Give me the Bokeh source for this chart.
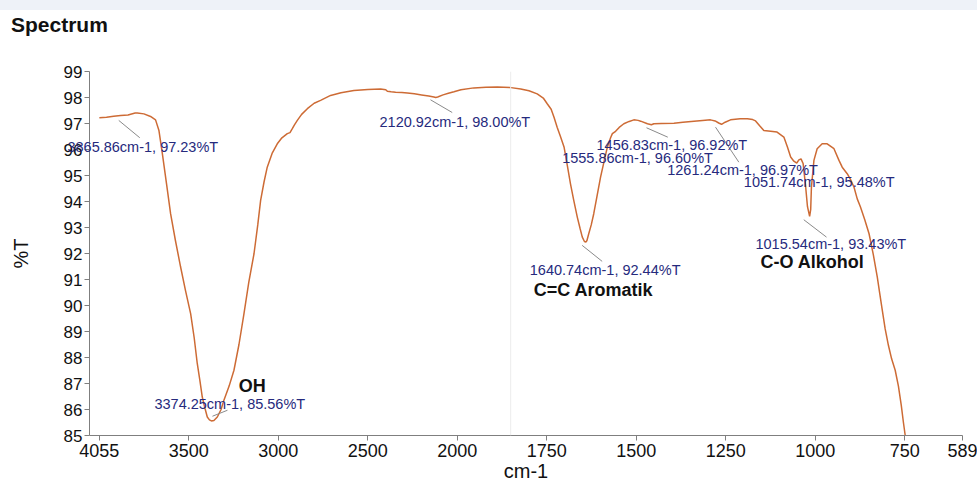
import numpy as np
from bokeh.plotting import figure
from bokeh.layouts import column
from bokeh.models import ColumnDataSource, LabelSet, Label, Range1d, FixedTicker, Span, Spacer
from bokeh.core.properties import value
from bokeh.embed import file_html
from bokeh.resources import INLINE

FONT = "Liberation Sans"

# ---------------- data ----------------
x_tick_wn = [4000, 3500, 3000, 2500, 2000, 1750, 1500, 1250, 1000, 750, 589]
x_tick_labels = ["4055", "3500", "3000", "2500", "2000", "1750", "1500", "1250", "1000", "750", "589"]
y_ticks = list(range(85, 100))

wavenumber = [
    4000, 3960, 3920, 3881, 3840, 3800, 3788, 3751, 3714, 3686, 3667, 3648, 3625, 3602,
    3575, 3546, 3518, 3490, 3470, 3453, 3438, 3425, 3410, 3397, 3385, 3374, 3360, 3341,
    3320, 3304, 3275, 3248, 3220, 3192, 3165, 3136, 3115, 3099, 3080, 3062, 3035, 3006,
    2980, 2950, 2935, 2922, 2910, 2894, 2870, 2838, 2800, 2764, 2708, 2650, 2578, 2500,
    2429, 2400, 2391, 2370, 2345, 2310, 2279, 2240, 2200, 2160, 2131, 2121, 2110, 2080,
    2050, 2019, 1990, 1954, 1920, 1888, 1850, 1823, 1800, 1777, 1760, 1749, 1738, 1730,
    1721, 1712, 1702, 1693, 1684, 1675, 1665, 1657, 1651, 1645, 1641, 1638, 1633, 1626,
    1619, 1610, 1600, 1590, 1581, 1572, 1567, 1558, 1548, 1535, 1520, 1507, 1495, 1488,
    1469, 1458, 1451, 1430, 1395, 1370, 1339, 1315, 1293, 1280, 1270, 1262, 1252, 1237,
    1210, 1190, 1175, 1167, 1155, 1144, 1125, 1107, 1088, 1078, 1069, 1060, 1052, 1046,
    1040, 1034, 1027, 1022, 1016, 1013, 1011, 1004, 995, 981, 967, 957, 948, 934,
    925, 911, 902, 892, 883, 874, 862, 850, 838, 827, 820, 813, 805, 796,
    787, 777, 768, 760, 754, 749,
]
transmittance = [
    97.22, 97.24, 97.28, 97.31, 97.33, 97.40, 97.40, 97.37, 97.27, 97.14, 96.73, 95.84, 94.70, 93.53,
    92.50, 91.48, 90.55, 89.69, 88.75, 87.77, 87.10, 86.48, 86.05, 85.71, 85.60, 85.56, 85.58, 85.71,
    86.00, 86.36, 86.90, 87.51, 88.50, 89.69, 90.90, 91.99, 93.10, 94.04, 94.75, 95.32, 95.85, 96.22,
    96.45, 96.61, 96.65, 96.80, 96.95, 97.12, 97.35, 97.57, 97.78, 97.89, 98.08, 98.18, 98.27, 98.31,
    98.33, 98.30, 98.24, 98.22, 98.20, 98.19, 98.17, 98.14, 98.10, 98.06, 98.02, 98.00, 98.02, 98.10,
    98.16, 98.22, 98.30, 98.37, 98.39, 98.40, 98.38, 98.33, 98.26, 98.14, 97.98, 97.76, 97.55, 97.24,
    96.85, 96.50, 96.10, 95.40, 94.68, 94.05, 93.40, 92.95, 92.63, 92.46, 92.44, 92.50, 92.76, 93.10,
    93.53, 94.20, 94.94, 95.55, 96.09, 96.45, 96.61, 96.70, 96.85, 96.99, 97.08, 97.14, 97.12, 97.09,
    96.99, 96.95, 96.99, 97.00, 97.01, 97.05, 97.09, 97.12, 97.14, 97.10, 97.02, 96.97, 97.05, 97.14,
    97.18, 97.18, 97.15, 97.10, 96.90, 96.73, 96.70, 96.67, 96.48, 96.10, 95.71, 95.55, 95.48, 95.60,
    95.64, 95.45, 94.55, 93.80, 93.43, 93.70, 94.55, 95.58, 96.03, 96.22, 96.22, 96.12, 96.03, 95.58,
    95.32, 95.07, 94.85, 94.55, 94.10, 93.79, 93.30, 92.76, 91.95, 91.09, 90.45, 89.81, 89.10, 88.47,
    87.95, 87.51, 86.90, 86.16, 85.50, 85.00,
]

peak_wn = [3865.86, 3374.25, 2120.92, 1640.74, 1555.86, 1456.83, 1261.24, 1051.74, 1015.54]
peak_t = [97.23, 85.56, 98.00, 92.44, 96.60, 96.92, 96.97, 95.48, 93.43]
peak_labels = [f"{w:.2f}cm-1, {t:.2f}%T" for w, t in zip(peak_wn, peak_t)]

group_labels = ["OH", "C=C Aromatik", "C-O Alkohol"]
group_wn = [3374.25, 1640.74, 1015.54]
group_t = [85.56, 92.44, 93.43]

# ---------------- layout / style ----------------
FRAME_W, FRAME_H = 873, 364
X_LEFT_WN, X_RIGHT_WN = 4055, 589
BAND = "#eef2f8"
ANN_COLOR = "#262a7d"


def to_axis(wn):
    """Spectrometer x scale: region above 2000 cm-1 is compressed by half."""
    wn = np.asarray(wn, dtype=float)
    return np.where(wn > 2000, 2000 + (wn - 2000) / 2.0, wn)


x_start = float(to_axis(X_LEFT_WN))
x_end = float(to_axis(X_RIGHT_WN))
px_per_u = FRAME_W / (x_start - x_end)
px_per_t = FRAME_H / (99 - 85)


def shift(wn, t, dx, dy):
    """data point moved by screen pixels (dx right, dy down)."""
    return float(to_axis(wn)) - dx / px_per_u, t - dy / px_per_t


# label offsets in screen px (text left / middle), relative to the peak
label_dx = [-55.9, -56.9, -56.2, -56.2, -54.2, -55.3, -54.6, -53.0, -54.3]
label_dy = [29.6, -17.4, 24.3, 27.8, 24.3, 19.9, 46.2, 19.4, 28.1]
# leader lines (index, start dx, dy, end dx, dy) in screen px
leaders = [
    (0, -4.6, 2.9, 16.4, 20.2),
    (1, 1.1, -4.7, 16.1, -10.7),
    (2, -5.2, 2.3, 16.5, 15.0),
    (3, -3.8, 3.3, 16.2, 19.3),
    (5, -5.3, 2.2, 16.0, 11.6),
    (6, -6.3, 2.9, 17.0, 37.9),
    (8, -6.0, 3.4, 16.7, 20.8),
]
group_dx = [27.4, -52.2, -49.3]
group_dy = [-34.7, 48.3, 46.1]

p = figure(
    frame_width=FRAME_W, frame_height=FRAME_H,
    x_range=Range1d(x_start, x_end), y_range=Range1d(85, 99),
    output_backend="svg", toolbar_location=None, title_location=None,
    min_border_left=89, min_border_top=61, min_border_right=15, min_border_bottom=0,
    background_fill_color="white", border_fill_color="white",
)
p.outline_line_color = None
p.xgrid.grid_line_color = None
p.ygrid.grid_line_color = None

# faint cursor line present in the screenshot
p.add_layout(Span(location=float(to_axis(1851)), dimension="height",
                  line_color="#ececec", line_width=1))

src = ColumnDataSource(dict(u=to_axis(wavenumber), t=transmittance))
p.line("u", "t", source=src, line_color="#cd6b35", line_width=1.5)

# leader lines
x0, y0, x1, y1 = [], [], [], []
for i, sdx, sdy, edx, edy in leaders:
    a = shift(peak_wn[i], peak_t[i], sdx, sdy)
    b = shift(peak_wn[i], peak_t[i], edx, edy)
    x0.append(a[0]); y0.append(a[1]); x1.append(b[0]); y1.append(b[1])
p.segment(x0, y0, x1, y1, line_color="#8a8a8a", line_width=1)

# peak labels inside the frame
inner = list(range(1, len(peak_wn)))
ann = ColumnDataSource(dict(
    u=to_axis([peak_wn[i] for i in inner]), t=[peak_t[i] for i in inner],
    text=[peak_labels[i] for i in inner],
    dx=[label_dx[i] for i in inner], dy=[-label_dy[i] for i in inner],
))
p.add_layout(LabelSet(x="u", y="t", text="text", source=ann, x_offset="dx", y_offset="dy",
                      text_font=value(FONT), text_font_size=value("14.5px"),
                      text_color=value(ANN_COLOR), level="overlay",
                      text_align="left", text_baseline="middle"))

grp = ColumnDataSource(dict(
    u=to_axis(group_wn), t=group_t, text=group_labels,
    dx=group_dx, dy=[-d for d in group_dy],
))
p.add_layout(LabelSet(x="u", y="t", text="text", source=grp, x_offset="dx", y_offset="dy",
                      text_font=value(FONT), text_font_size=value("18px"),
                      text_font_style=value("bold"), level="overlay",
                      text_color=value("#111111"), text_align="left", text_baseline="middle"))

# labels that reach outside the frame: placed in the top panel so they are not clipped
p.add_layout(Label(x=float(to_axis(peak_wn[0])), y=peak_t[0],
                   x_offset=label_dx[0], y_offset=-label_dy[0], text=peak_labels[0],
                   text_font=FONT, text_font_size="14.5px", text_color=ANN_COLOR,
                   text_align="left", text_baseline="middle"), "above")
p.add_layout(Label(x=x_start, y=99, x_offset=-78.5, y_offset=47.5, text="Spectrum",
                   text_font=FONT, text_font_size="21px", text_font_style="bold",
                   text_color="#111111", text_align="left", text_baseline="alphabetic"), "above")

# axes
tick_u = [float(v) for v in to_axis(x_tick_wn)]
p.xaxis.ticker = FixedTicker(ticks=tick_u)
p.xaxis.major_label_overrides = {u: lab for u, lab in zip(tick_u, x_tick_labels)}
p.yaxis.ticker = FixedTicker(ticks=y_ticks)

for ax in (p.xaxis, p.yaxis):
    ax.axis_line_color = "#7f7f7f"
    ax.major_tick_line_color = "#7f7f7f"
    ax.major_tick_out = 5
    ax.major_tick_in = 0
    ax.minor_tick_line_color = None
    ax.major_label_text_font = FONT
    ax.major_label_text_color = "#111111"
    ax.major_label_standoff = 2
    ax.axis_label_text_font = FONT
    ax.axis_label_text_font_style = "normal"
    ax.axis_label_text_font_size = "20px"
    ax.axis_label_text_color = "#111111"

p.xaxis.major_label_text_font_size = "18px"
p.xaxis.major_label_standoff = 3
p.yaxis.major_label_text_font_size = "17px"
p.xaxis.axis_label = "cm-1"
p.xaxis.axis_label_standoff = 0
p.yaxis.axis_label = "%T"
p.yaxis.axis_label_standoff = 29

top_band = Spacer(width=977, height=10, styles={"background-color": BAND})
page = column(top_band, p, spacing=0)

open("out.html", "w").write(file_html(page, INLINE))
